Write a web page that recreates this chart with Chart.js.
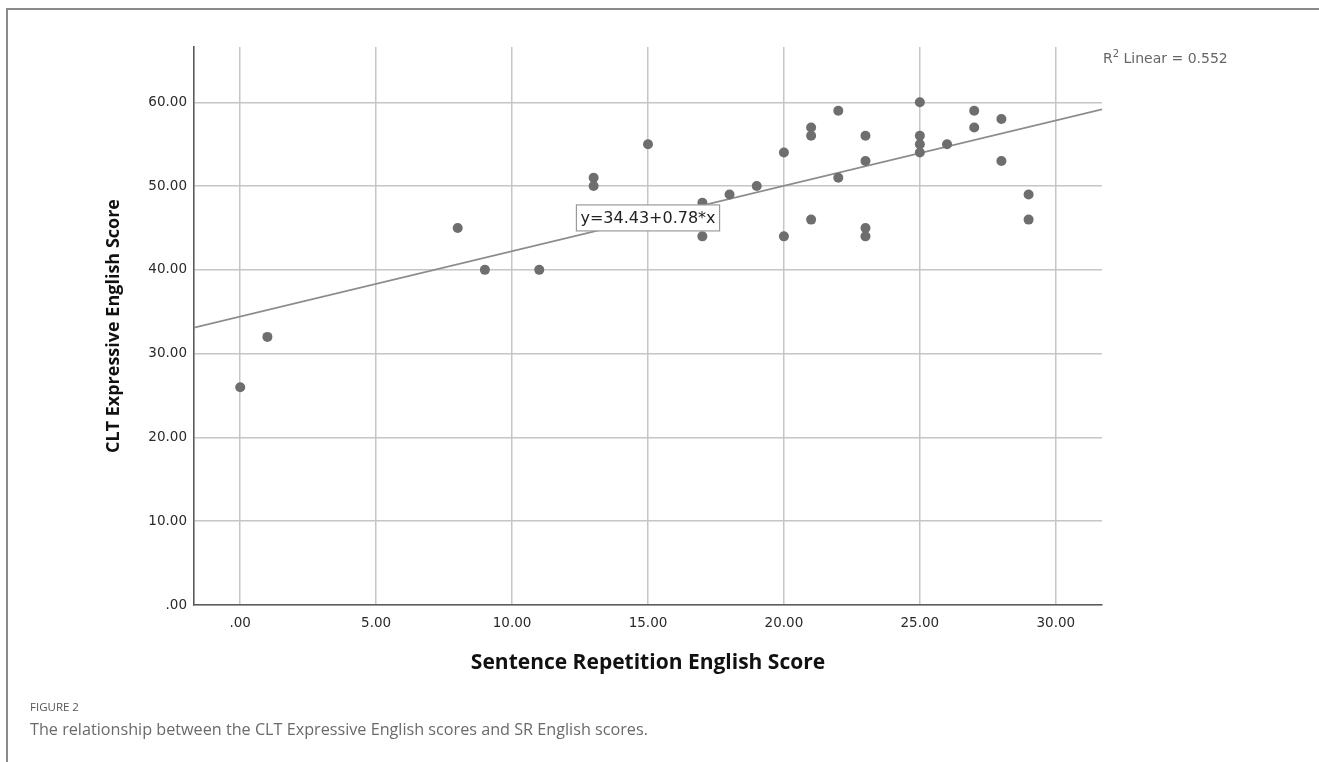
<!DOCTYPE html>
<html>
<head>
<meta charset="utf-8">
<script src="https://cdn.jsdelivr.net/npm/chart.js@4/dist/chart.umd.min.js"></script>
<style>
  html, body { margin: 0; padding: 0; background: #fff; }
  body { width: 1319px; height: 762px; position: relative; overflow: hidden; }
  #frame { position: absolute; left: 6px; top: 8px; width: 1320px; height: 800px;
           border-left: 2px solid #8a8a8a; border-top: 2px solid #8a8a8a; }
  #wrap { position: absolute; left: 0; top: 0; width: 1319px; height: 762px; }
  #figlabel { position: absolute; left: 30px; top: 699px; font-family: "Open Sans", sans-serif;
              font-size: 11.5px; color: #555; }
  #caption { position: absolute; left: 30px; top: 718px; font-family: "Open Sans", sans-serif;
             font-size: 16.2px; color: #6a6a6a; }
</style>
</head>
<body>
<div id="frame"></div>
<div id="wrap"><canvas id="c" width="1319" height="762"></canvas></div>
<div id="figlabel">FIGURE 2</div>
<div id="caption">The relationship between the CLT Expressive English scores and SR English scores.</div>
<script>
// ---- data ----
const srScores  = [0, 1, 8, 9, 11, 13, 13, 15, 17, 17, 18, 19, 20, 20, 21, 21, 21, 22, 22, 23, 23, 23, 23, 25, 25, 25, 25, 26, 27, 27, 28, 28, 29, 29];
const cltScores = [26, 32, 45, 40, 40, 51, 50, 55, 48, 44, 49, 50, 54, 44, 57, 56, 46, 59, 51, 56, 53, 45, 44, 60, 56, 55, 54, 55, 59, 57, 58, 53, 49, 46];
const fitIntercept = 34.43;
const fitSlope = 0.78;
const rSquared = "0.552";
const xTickValues = [0, 5, 10, 15, 20, 25, 30];
const yTickValues = [0, 10, 20, 30, 40, 50, 60];
const xTitle = "Sentence Repetition English Score";
const yTitle = "CLT Expressive English Score";
const equationLabel = "y=34.43+0.78*x";

const X_MIN = -1.7, X_MAX = 31.7, Y_MIN = 0, Y_MAX = 66.6;

const points = srScores.map((x, i) => ({ x: x, y: cltScores[i] }));
const fitLine = [X_MIN, X_MAX].map(x => ({ x: x, y: fitIntercept + fitSlope * x }));

const fmt = v => (v === 0 ? ".00" : Number(v).toFixed(2));

const annotations = {
  id: 'annotations',
  afterDatasetsDraw(chart) {
    const ctx = chart.ctx;
    const xs = chart.scales.x, ys = chart.scales.y;
    // equation box
    ctx.save();
    ctx.font = '16px "DejaVu Sans"';
    const tw = ctx.measureText(equationLabel).width;
    const cx = xs.getPixelForValue(15.0);
    const cy = ys.getPixelForValue(46.2);
    const w = tw + 8, h = 26;
    ctx.fillStyle = '#fff';
    ctx.fillRect(cx - w / 2, cy - h / 2, w, h);
    ctx.strokeStyle = '#9a9a9a';
    ctx.lineWidth = 1.2;
    ctx.strokeRect(cx - w / 2, cy - h / 2, w, h);
    ctx.fillStyle = '#222';
    ctx.textBaseline = 'middle';
    ctx.textAlign = 'center';
    ctx.fillText(equationLabel, cx, cy + 1);
    // R squared text
    const ca = chart.chartArea;
    let tx = ca.right + 1, ty = 59;
    ctx.textAlign = 'left';
    ctx.fillStyle = '#666';
    ctx.font = '14px "DejaVu Sans"';
    ctx.fillText('R', tx, ty);
    tx += ctx.measureText('R').width;
    ctx.font = '10px "DejaVu Sans"';
    ctx.fillText('2', tx, ty - 5);
    tx += ctx.measureText('2').width;
    ctx.font = '14px "DejaVu Sans"';
    ctx.fillText(' Linear = ' + rSquared, tx, ty);
    ctx.restore();
  }
};

new Chart(document.getElementById('c'), {
  type: 'scatter',
  data: {
    datasets: [
      {
        label: 'fit',
        type: 'line',
        data: fitLine,
        borderColor: '#8c8c8c',
        borderWidth: 1.6,
        pointRadius: 0,
        fill: false,
        order: 2
      },
      {
        label: 'scores',
        data: points,
        pointRadius: 5,
        pointHoverRadius: 5,
        backgroundColor: '#6e6e6e',
        borderWidth: 0,
        order: 1
      }
    ]
  },
  options: {
    responsive: false,
    animation: false,
    events: [],
    layout: { padding: { top: 47, right: 217, bottom: 0, left: 0 } },
    plugins: { legend: { display: false }, tooltip: { enabled: false } },
    scales: {
      x: {
        type: 'linear',
        min: X_MIN, max: X_MAX,
        afterBuildTicks: s => { s.ticks = xTickValues.map(v => ({ value: v })); },
        afterFit: s => { s.height = 157; },
        ticks: {
          callback: v => fmt(v),
          color: '#2a2a2a',
          font: { family: 'DejaVu Sans', size: 13.5 },
          padding: 10,
          maxRotation: 0,
          autoSkip: false
        },
        grid: { color: '#c6c6c6', lineWidth: 1.5, drawTicks: false },
        border: { color: '#5a5a5a', width: 1.6 },
        title: {
          display: true, text: xTitle, color: '#111',
          font: { family: 'Open Sans', size: 21, weight: 'bold' },
          padding: { top: 0, bottom: 86 }
        }
      },
      y: {
        type: 'linear',
        min: Y_MIN, max: Y_MAX,
        afterBuildTicks: s => { s.ticks = yTickValues.map(v => ({ value: v })); },
        afterFit: s => { s.width = 194; },
        ticks: {
          callback: v => fmt(v),
          color: '#2a2a2a',
          font: { family: 'DejaVu Sans', size: 13.5 },
          padding: 7,
          autoSkip: false
        },
        grid: { color: '#c6c6c6', lineWidth: 1.5, drawTicks: false },
        border: { color: '#5a5a5a', width: 1.6 },
        title: {
          display: true, text: yTitle, color: '#111',
          font: { family: 'Open Sans', size: 18, weight: 'bold' },
          padding: { top: 103, bottom: 0 }
        }
      }
    }
  },
  plugins: [annotations]
});
</script>
</body>
</html>
